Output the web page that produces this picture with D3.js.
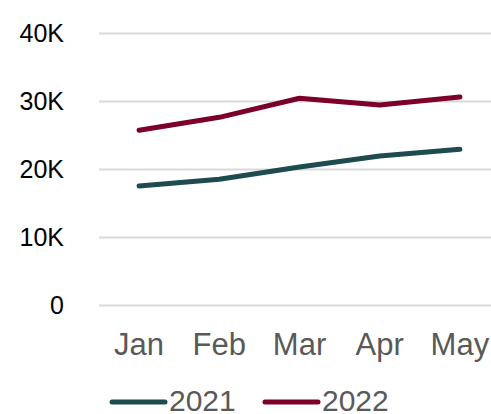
<!DOCTYPE html>
<html>
<head>
<meta charset="utf-8">
<script src="https://cdn.jsdelivr.net/npm/d3@7"></script>
<style>
  body { margin: 0; background: #fff; }
  text { font-family: "Liberation Sans", Arial, sans-serif; }
</style>
</head>
<body>
<div id="chart"></div>
<script>
// chart data
var months = ["Jan", "Feb", "Mar", "Apr", "May"];
var seriesNames = ["2021", "2022"];
var values2021 = [17500, 18500, 20300, 21900, 22900];
var values2022 = [25700, 27600, 30400, 29400, 30600];
var yTicks = [0, 10000, 20000, 30000, 40000];
var yTickLabels = ["0", "10K", "20K", "30K", "40K"];

var colors = ["#1d4b4f", "#7d0029"];

var svgWidth = 491;
var svgHeight = 414;

var svg = d3.select("#chart")
    .append("svg")
    .attr("width", svgWidth)
    .attr("height", svgHeight);

// scales
var xScale = d3.scaleBand()
    .domain(months)
    .range([99, 500]);

var yScale = d3.scaleLinear()
    .domain([0, 40000])
    .range([305, 33]);

// gridlines + y labels
var yAxis = d3.axisLeft(yScale)
    .tickValues(yTicks)
    .tickSize(-392)
    .tickFormat((d, i) => yTickLabels[i]);

var yG = svg.append("g")
    .attr("transform", "translate(99,0)")
    .call(yAxis);
yG.select(".domain").remove();
yG.selectAll(".tick line")
    .attr("stroke", "#d9d9d9")
    .attr("stroke-width", 2);
yG.selectAll(".tick text")
    .attr("x", -35)
    .attr("dy", "0.34em")
    .attr("fill", "#000")
    .style("font-size", "25px");

// x labels
var xAxis = d3.axisBottom(xScale).tickSize(0);
var xG = svg.append("g")
    .attr("transform", "translate(0,305)")
    .call(xAxis);
xG.select(".domain").remove();
xG.selectAll(".tick text")
    .attr("y", 50)
    .attr("dy", 0)
    .attr("fill", "#595959")
    .style("font-size", "31px");

// lines
var line = d3.line()
    .x((d, i) => xScale(months[i]) + xScale.bandwidth() / 2)
    .y(d => yScale(d));

[values2021, values2022].forEach(function(vals, i) {
    svg.append("path")
        .datum(vals)
        .attr("fill", "none")
        .attr("stroke", colors[i])
        .attr("stroke-width", 5)
        .attr("stroke-linecap", "round")
        .attr("stroke-linejoin", "round")
        .attr("d", line);
});

// legend
var legendX = [112, 265];
seriesNames.forEach(function(name, i) {
    var g = svg.append("g").attr("transform", `translate(${legendX[i]},402)`);
    g.append("line")
        .attr("x1", 0).attr("x2", 53)
        .attr("y1", 0).attr("y2", 0)
        .attr("stroke", colors[i])
        .attr("stroke-width", 5)
        .attr("stroke-linecap", "round");
    g.append("text")
        .attr("x", 57)
        .attr("y", 9)
        .attr("fill", "#595959")
        .style("font-size", "30px")
        .text(name);
});
</script>
</body>
</html>
